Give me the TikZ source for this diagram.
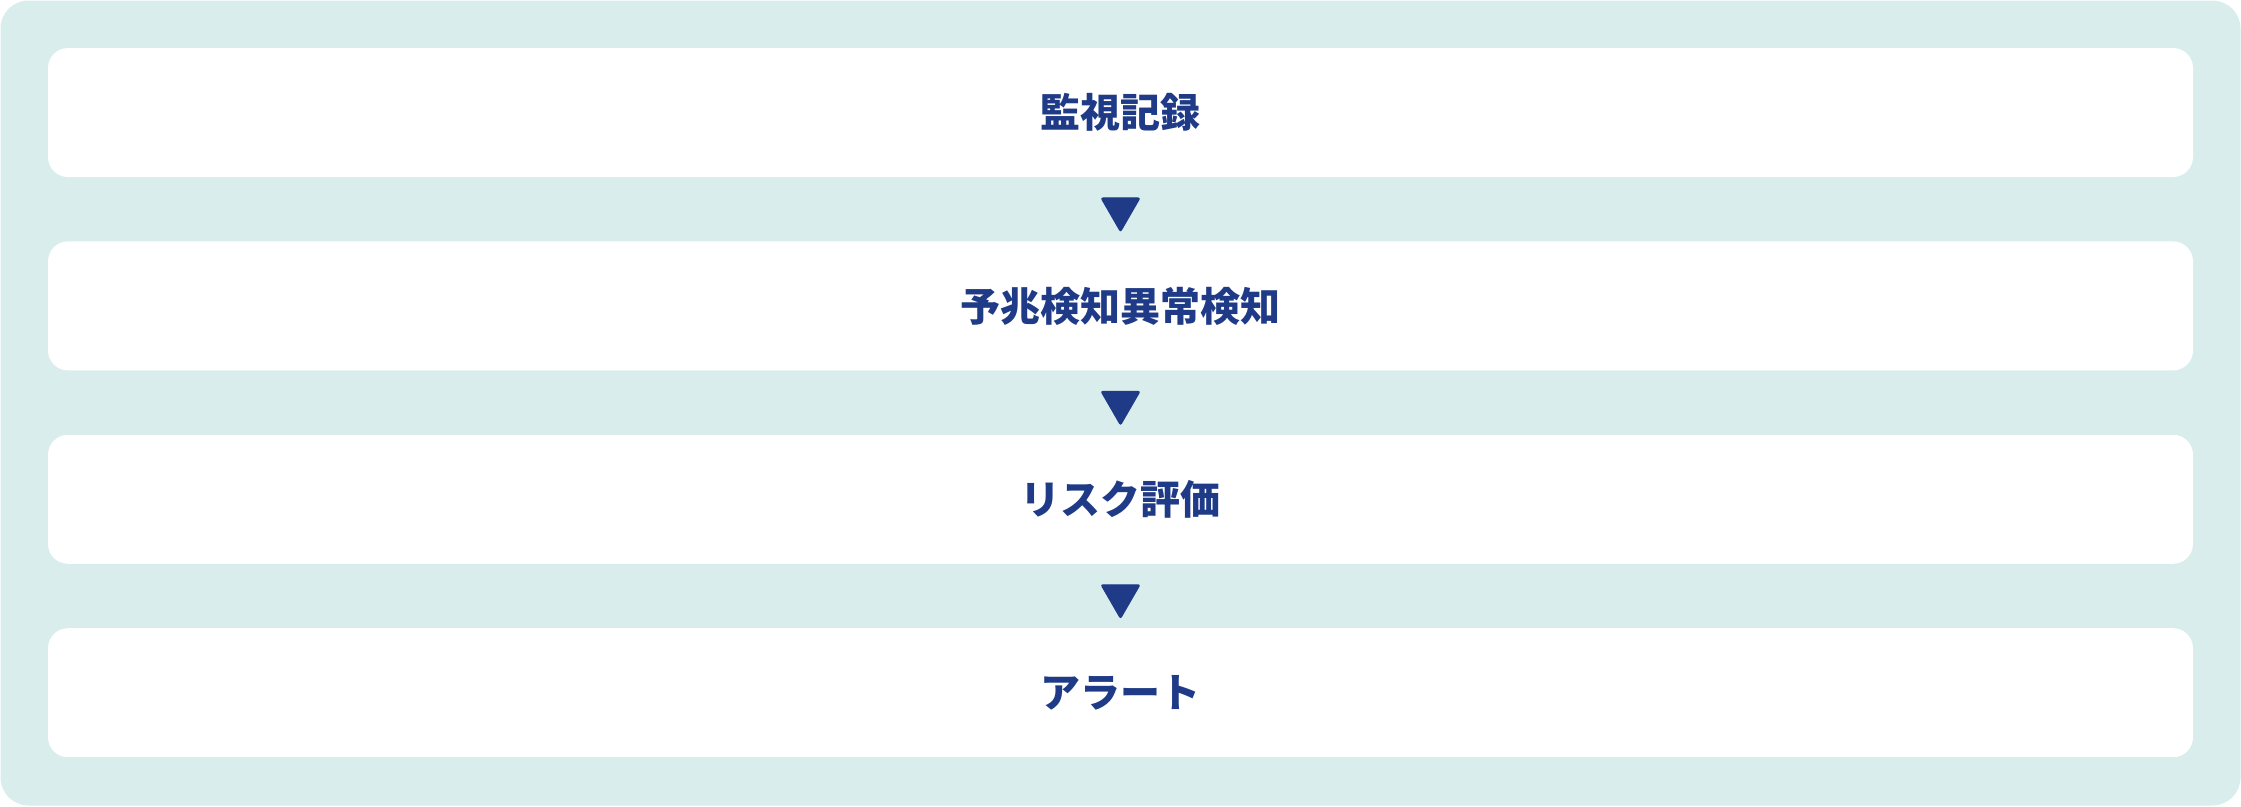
\documentclass[tikz,border=0pt]{standalone}
\usepackage{fontspec}
\newfontfamily\jpfont{Noto Sans CJK JP}[BoldFont={Noto Sans CJK JP Black}]
\usepackage{xcolor}
\usetikzlibrary{shapes.geometric,positioning,calc}
\definecolor{panelteal}{HTML}{D9EEEC}
\definecolor{flowblue}{HTML}{1F3B87}

\begin{document}
\begin{tikzpicture}[
    x=1pt, y=1pt,
    stepbox/.style={fill=white, rounded corners=20pt, minimum width=2145pt,
        minimum height=129pt, inner sep=0pt, text=flowblue,
        font=\jpfont\bfseries\fontsize{40}{44}\selectfont},
    downtri/.style={regular polygon, regular polygon sides=3,
        shape border rotate=180, fill=flowblue, draw=flowblue, line width=1pt,
        rounded corners=2pt, minimum size=45pt, inner sep=0pt},
]
\useasboundingbox (0,0) rectangle (2241,-806);

% Panel
\fill[panelteal, rounded corners=28pt] (0.5,-0.5) rectangle (2240.5,-805.5);

% Steps
\node[stepbox] (record) at (1120.5,-112.5) {監視記録};
\node[stepbox, below=64pt of record] (detect) {予兆検知異常検知};
\node[stepbox, below=64pt of detect] (risk) {リスク評価};
\node[stepbox, below=64pt of risk] (alert) {アラート};

% Arrows between steps
\node[downtri] (tri1) at ($(record.south)!0.5!(detect.north)$) {};
\node[downtri] (tri2) at ($(detect.south)!0.5!(risk.north)$) {};
\node[downtri] (tri3) at ($(risk.south)!0.5!(alert.north)$) {};

\end{tikzpicture}
\end{document}
